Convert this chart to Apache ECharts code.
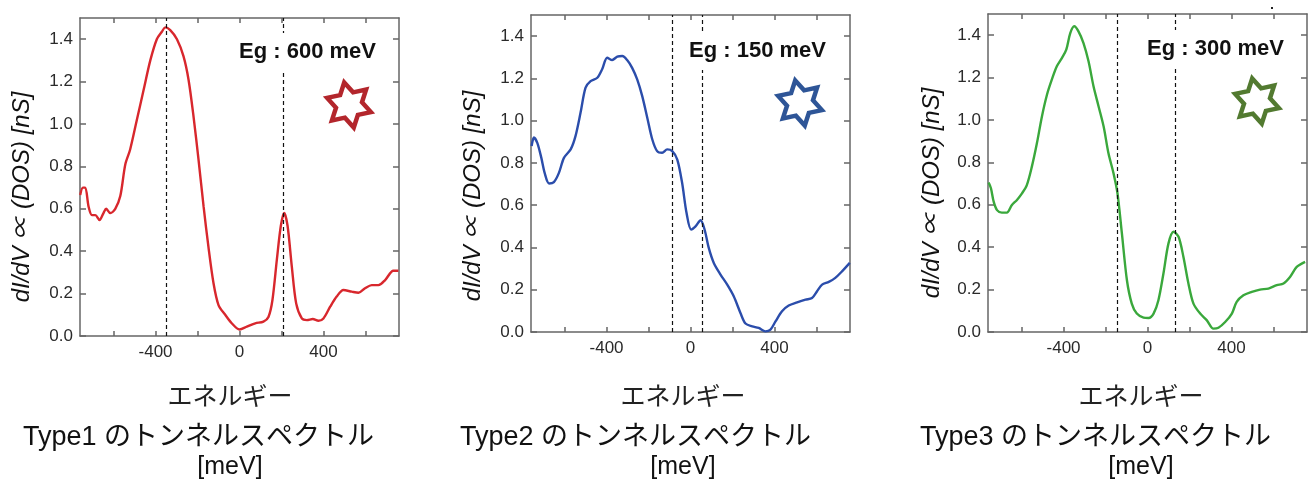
<!DOCTYPE html>
<html>
<head>
<meta charset="utf-8">
<script src="https://cdn.jsdelivr.net/npm/echarts@6/dist/echarts.min.js"></script>
<style>
  html, body { margin: 0; padding: 0; background: #fff; }
  #chart { width: 1314px; height: 481px; }
</style>
</head>
<body>
<div id="chart"></div>
<script>
// values
const energy1 = [-759, -746, -735, -719, -703, -687, -667, -648, -635, -616, -592, -568, -544, -521, -489, -457, -425, -394, -370, -354, -330, -298, -267, -243, -219, -195, -171, -148, -124, -100, -68, -37, 0, 35, 75, 114, 138, 157, 178, 197, 213, 229, 249, 270, 297, 321, 349, 376, 400, 432, 463, 495, 535, 567, 598, 630, 662, 694, 733, 757]
const dos1 = [0.665, 0.70, 0.70, 0.61, 0.57, 0.57, 0.547, 0.58, 0.60, 0.58, 0.60, 0.66, 0.81, 0.88, 1.02, 1.16, 1.30, 1.40, 1.435, 1.456, 1.443, 1.40, 1.32, 1.21, 1.035, 0.83, 0.61, 0.42, 0.25, 0.146, 0.10, 0.06, 0.031, 0.044, 0.06, 0.068, 0.09, 0.17, 0.36, 0.52, 0.58, 0.52, 0.33, 0.154, 0.083, 0.075, 0.08, 0.072, 0.083, 0.138, 0.186, 0.217, 0.209, 0.204, 0.225, 0.24, 0.24, 0.264, 0.308, 0.308]

const energy2 = [-757, -746, -730, -711, -695, -674, -651, -627, -603, -571, -548, -524, -500, -476, -444, -421, -397, -373, -349, -325, -302, -278, -254, -230, -206, -182, -159, -135, -111, -87, -63, -40, -19, 3, 24, 48, 67, 87, 111, 143, 175, 206, 238, 262, 294, 325, 357, 381, 405, 436, 468, 508, 548, 579, 603, 627, 659, 690, 722, 759]
const dos2 = [0.88, 0.92, 0.895, 0.825, 0.753, 0.703, 0.709, 0.753, 0.824, 0.864, 0.927, 1.037, 1.156, 1.187, 1.203, 1.243, 1.298, 1.287, 1.303, 1.306, 1.287, 1.25, 1.195, 1.116, 1.014, 0.911, 0.856, 0.848, 0.864, 0.856, 0.816, 0.706, 0.564, 0.485, 0.50, 0.529, 0.485, 0.398, 0.327, 0.272, 0.224, 0.169, 0.09, 0.04, 0.027, 0.019, 0.003, 0.011, 0.05, 0.098, 0.125, 0.14, 0.153, 0.161, 0.193, 0.224, 0.237, 0.256, 0.287, 0.327]

const energy3 = [-757, -746, -733, -717, -694, -670, -646, -622, -598, -575, -551, -527, -503, -479, -456, -432, -408, -387, -368, -349, -329, -305, -281, -257, -233, -209, -186, -162, -143, -122, -98, -75, -51, -19, 5, 29, 52, 76, 100, 124, 148, 171, 195, 219, 251, 283, 314, 338, 370, 402, 425, 457, 497, 536, 576, 616, 648, 679, 711, 751]
const dos3 = [0.705, 0.678, 0.615, 0.575, 0.563, 0.563, 0.599, 0.623, 0.654, 0.693, 0.78, 0.89, 1.017, 1.119, 1.19, 1.253, 1.292, 1.332, 1.41, 1.442, 1.418, 1.363, 1.277, 1.158, 1.064, 0.969, 0.843, 0.749, 0.654, 0.465, 0.244, 0.134, 0.087, 0.068, 0.066, 0.087, 0.15, 0.276, 0.418, 0.473, 0.449, 0.355, 0.229, 0.134, 0.087, 0.055, 0.016, 0.02, 0.047, 0.087, 0.142, 0.173, 0.189, 0.20, 0.205, 0.221, 0.229, 0.26, 0.307, 0.331]

// dashed gap edges (meV)
const gaps1 = [-350, 210]
const gaps2 = [-88, 58]
const gaps3 = [-143, 132]

const panelTitles = ['Type1 のトンネルスペクトル', 'Type2 のトンネルスペクトル', 'Type3 のトンネルスペクトル']
const gapLabels = ['Eg : 600 meV', 'Eg : 150 meV', 'Eg : 300 meV']

const xTickValues = [-600, -400, -200, 0, 200, 400, 600]
const xLabelValues = [-400, 0, 400]
const yTickValues = [0, 0.2, 0.4, 0.6, 0.8, 1.0, 1.2, 1.4]

const lineColors = ['#d8272d', '#2b4dab', '#3aa83c']
const starColors = ['#b3262c', '#2e5597', '#527a30']

const panels = [
  { left: 80, top: 18, width: 319, height: 318, x: energy1, y: dos1, gaps: gaps1, star: [349, 105], eg: [237, 53], yName: [22, 197], mid: 230, titleX: 23 },
  { left: 531, top: 15, width: 319, height: 317, x: energy2, y: dos2, gaps: gaps2, star: [800, 103], eg: [687, 52], yName: [473, 196], mid: 683, titleX: 460 },
  { left: 988, top: 14, width: 319, height: 318, x: energy3, y: dos3, gaps: gaps3, star: [1257, 101], eg: [1145, 50], yName: [932, 193], mid: 1141, titleX: 920 }
]

const sansFont = '"Liberation Sans", Arial, "Noto Sans CJK JP", sans-serif'
const frameColor = '#666'

const starPoints = (cx, cy, R, rot) => {
  const pts = []
  for (let k = 0; k < 12; k++) {
    const a = (rot + k * 30 - 90) * Math.PI / 180
    const r = k % 2 === 0 ? R : R / Math.sqrt(3)
    pts.push([cx + r * Math.cos(a), cy + r * Math.sin(a)])
  }
  return pts
}

const grid = []
const xAxis = []
const yAxis = []
const series = []
const graphic = []

panels.forEach((p, i) => {
  grid.push({ left: p.left, top: p.top, width: p.width, height: p.height })

  const xBase = {
    type: 'value',
    gridIndex: i,
    min: -760,
    max: 760,
    axisLine: { show: true, onZero: false, lineStyle: { color: frameColor, width: 1.5 } },
    axisTick: { show: true, inside: true, length: 5, customValues: xTickValues, lineStyle: { color: frameColor, width: 1.5 } },
    splitLine: { show: false }
  }
  xAxis.push(Object.assign({}, xBase, {
    position: 'bottom',
    axisLabel: { customValues: xLabelValues, margin: 8, fontSize: 17, color: '#2a2a2a', fontFamily: sansFont }
  }))
  xAxis.push(Object.assign({}, xBase, { position: 'top', axisLabel: { show: false } }))

  const yBase = {
    type: 'value',
    gridIndex: i,
    min: 0,
    max: 1.5,
    axisLine: { show: true, onZero: false, lineStyle: { color: frameColor, width: 1.5 } },
    axisTick: { show: true, inside: true, length: 6, customValues: yTickValues, lineStyle: { color: frameColor, width: 1.5 } },
    splitLine: { show: false }
  }
  yAxis.push(Object.assign({}, yBase, {
    position: 'left',
    axisLabel: { customValues: yTickValues, margin: 7, fontSize: 17, color: '#2a2a2a', fontFamily: sansFont, formatter: v => v.toFixed(1) }
  }))
  yAxis.push(Object.assign({}, yBase, { position: 'right', axisLabel: { show: false } }))

  series.push({
    type: 'line',
    xAxisIndex: i * 2,
    yAxisIndex: i * 2,
    data: p.x.map((e, k) => [e, p.y[k]]),
    smooth: 0.3,
    showSymbol: false,
    lineStyle: { color: lineColors[i], width: 2.4 },
    markLine: {
      silent: true,
      symbol: 'none',
      label: { show: false },
      lineStyle: { color: '#111', type: [4, 3], width: 1.2 },
      data: p.gaps.map(g => ({ xAxis: g }))
    },
    z: 3
  })

  // gap label with white box so the dashed line breaks behind it
  graphic.push({
    type: 'text',
    left: p.eg[0],
    top: p.eg[1] - 20,
    z: 10,
    style: {
      text: gapLabels[i],
      font: 'bold 22px ' + sansFont,
      fill: '#111',
      backgroundColor: '#fff',
      padding: [8, 2, 8, 2]
    }
  })

  graphic.push({
    type: 'polygon',
    z: 10,
    shape: { points: starPoints(p.star[0], p.star[1], 23, -12) },
    style: { fill: '#fff', stroke: starColors[i], lineWidth: 4.5, lineJoin: 'miter' }
  })

  graphic.push({
    type: 'text',
    x: p.yName[0],
    y: p.yName[1],
    rotation: Math.PI / 2,
    z: 10,
    style: {
      text: 'dI/dV ∝ (DOS) [nS]',
      font: 'italic 24px ' + sansFont,
      fill: '#111',
      align: 'center',
      verticalAlign: 'middle'
    }
  })

  graphic.push({
    type: 'text',
    x: p.mid,
    y: 395,
    style: { text: 'エネルギー', font: '25px "Noto Sans CJK JP", serif', fill: '#222', align: 'center', verticalAlign: 'middle' }
  })
  graphic.push({
    type: 'text',
    x: p.titleX,
    y: 438,
    style: { text: panelTitles[i], font: '27px ' + sansFont, fill: '#111', align: 'left', verticalAlign: 'middle' }
  })
  graphic.push({
    type: 'text',
    x: p.mid,
    y: 467,
    style: { text: '[meV]', font: '25px ' + sansFont, fill: '#111', align: 'center', verticalAlign: 'middle' }
  })
})

// stray dot above the third panel
graphic.push({ type: 'rect', shape: { x: 1271, y: 7, width: 2, height: 2 }, style: { fill: '#222' } })

const chart = echarts.init(document.getElementById('chart'), null, { renderer: 'canvas' })
chart.setOption({
  backgroundColor: '#fff',
  animation: false,
  tooltip: { show: false },
  grid,
  xAxis,
  yAxis,
  series,
  graphic
})
</script>
</body>
</html>
